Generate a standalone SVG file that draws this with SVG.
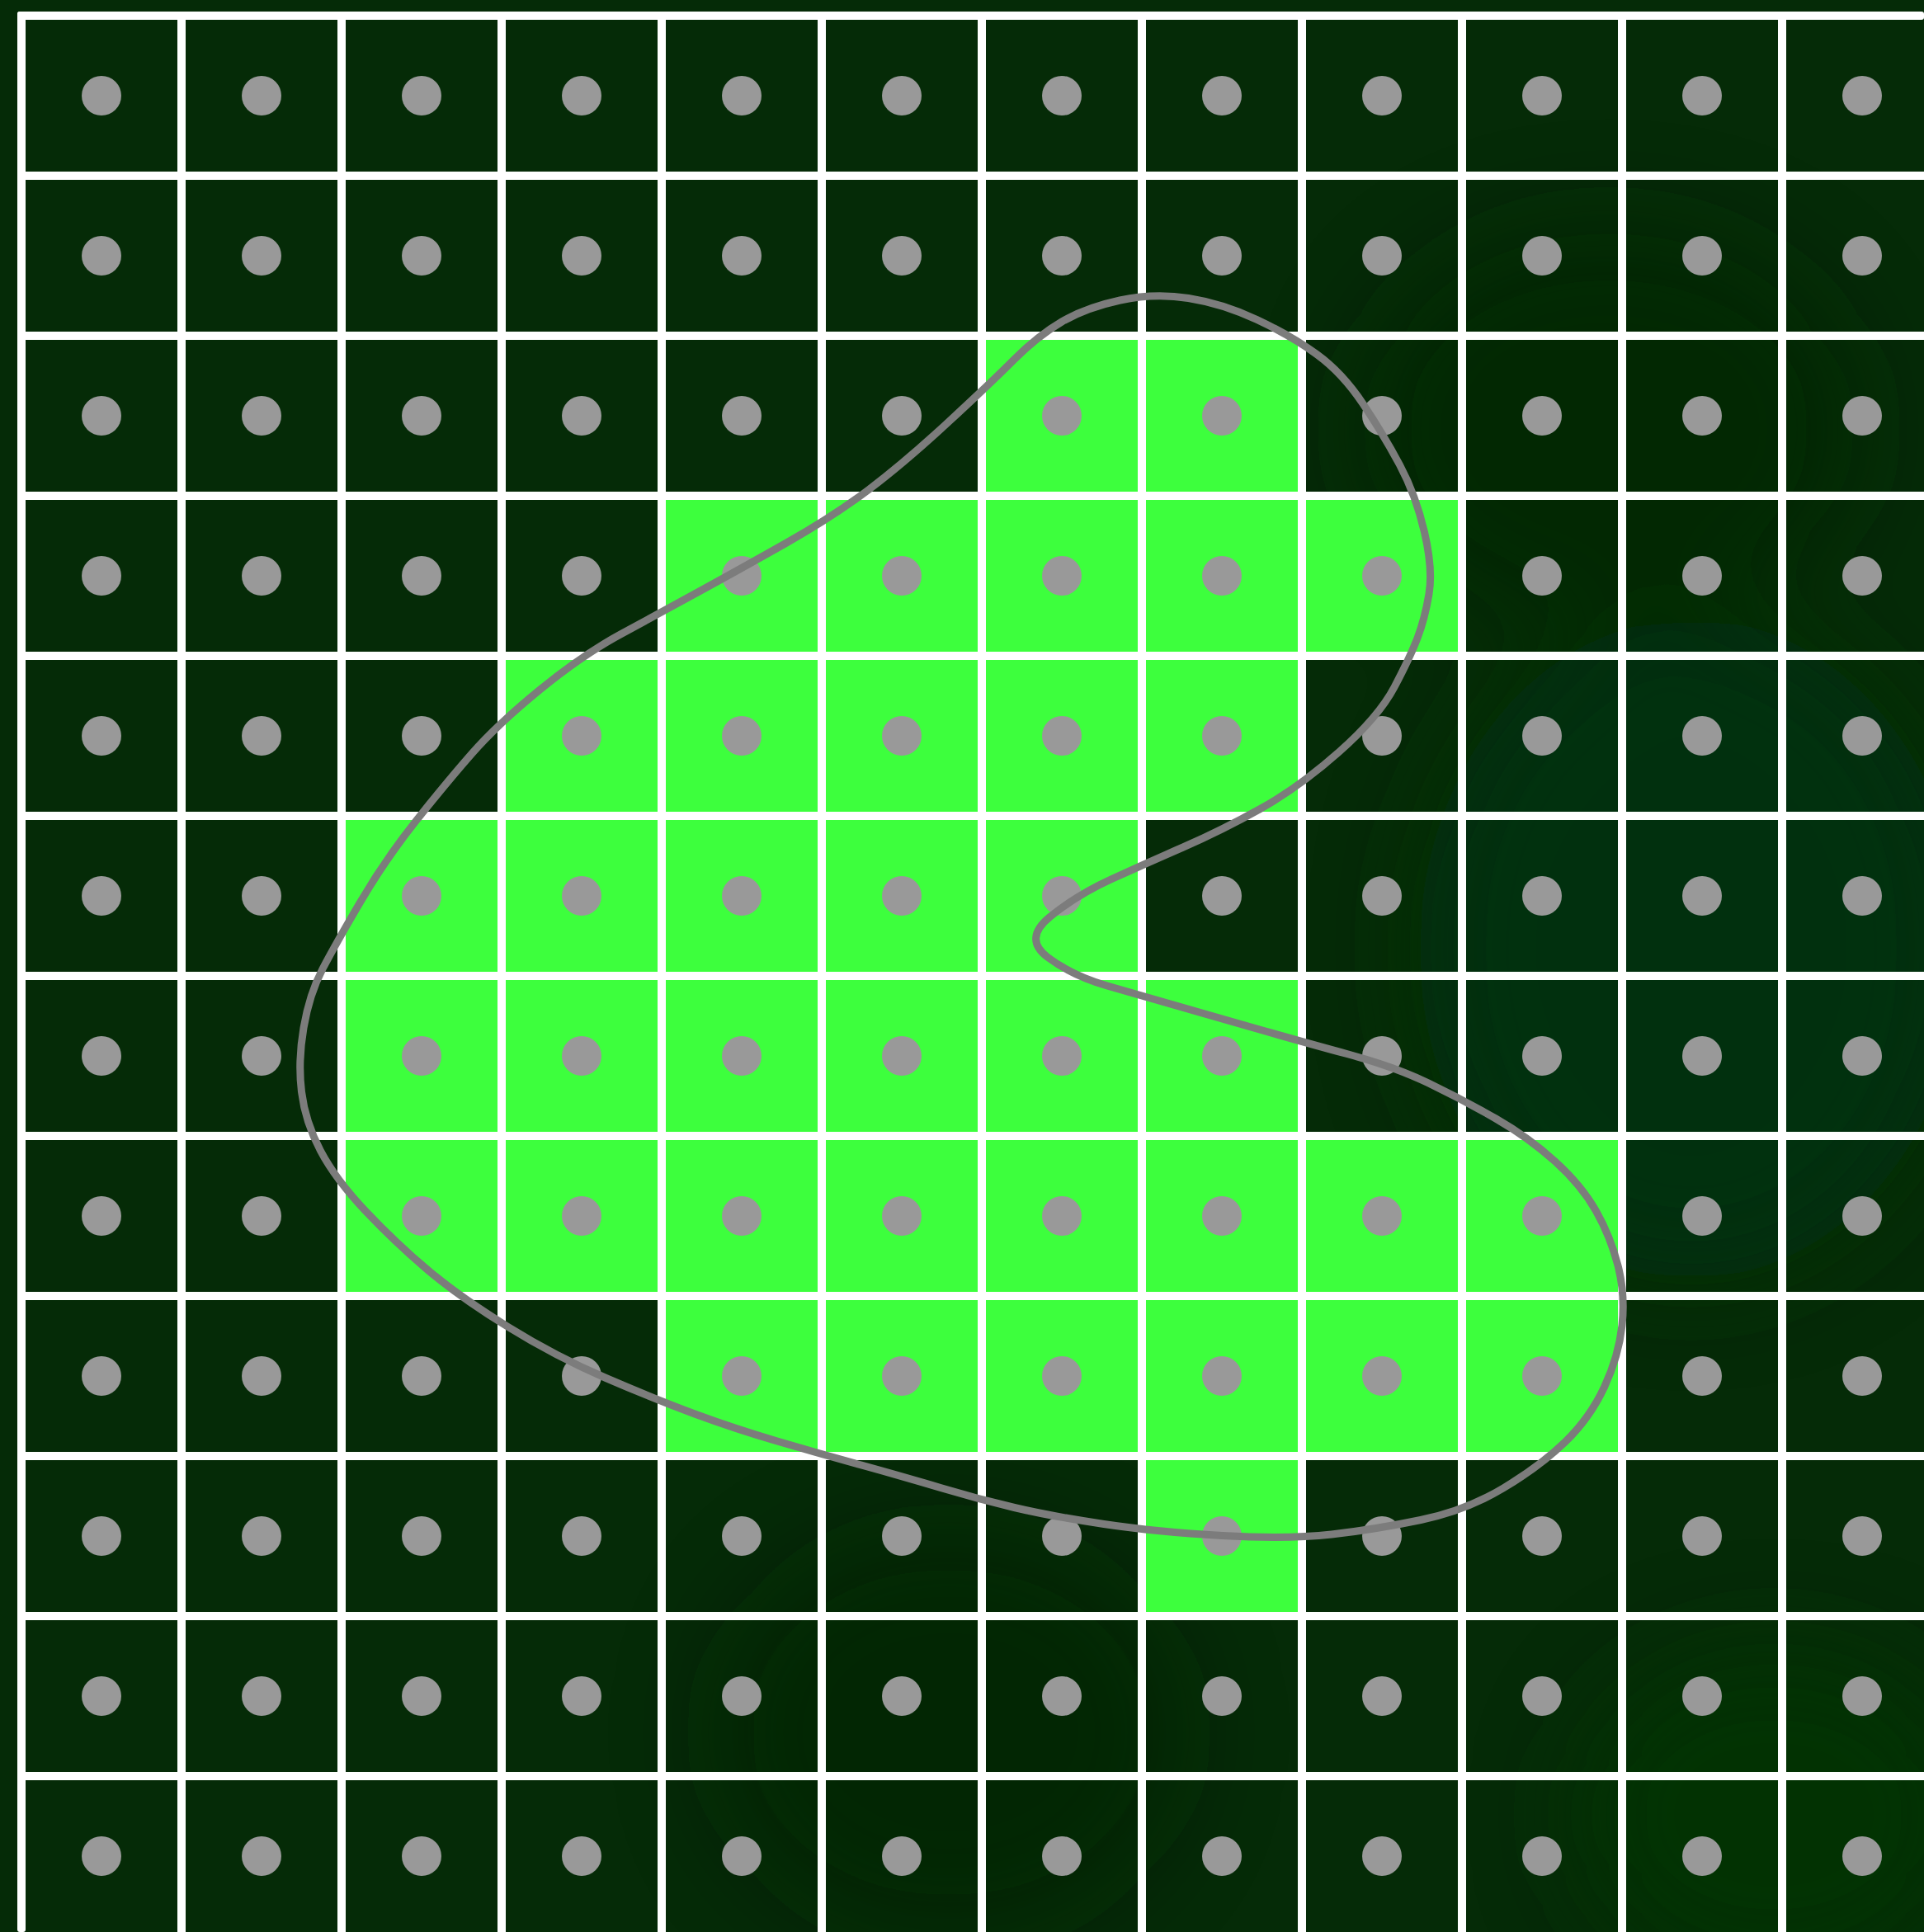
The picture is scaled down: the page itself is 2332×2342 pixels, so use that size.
<svg xmlns="http://www.w3.org/2000/svg" width="2332" height="2342" viewBox="0 0 2332 2342">
<style>
.bg{fill:#052b07}
.line{fill:#ffffff}
.hot{fill:#3dff3d}
.dot{fill:#999999}
.curve{fill:none;stroke:#7c7c7c;stroke-width:9;stroke-linejoin:round}
</style>
<defs>
<filter id="soft" x="-50%" y="-50%" width="200%" height="200%"><feGaussianBlur stdDeviation="60"/></filter>
</defs>
<g id="background">
<rect class="bg" x="0" y="0" width="2332" height="2342"/>
<g filter="url(#soft)">
<ellipse cx="2050" cy="1150" rx="330" ry="400" fill="#07350a" opacity="0.7"/>
<ellipse cx="1950" cy="520" rx="300" ry="240" fill="#042405" opacity="0.6"/>
<ellipse cx="1150" cy="2100" rx="280" ry="240" fill="#042605" opacity="0.5"/>
<ellipse cx="2150" cy="2200" rx="240" ry="200" fill="#07360a" opacity="0.6"/>
</g>
</g>
<g id="grid-lines">
<rect class="line" x="21" y="14" width="2311" height="10" rx="3"/>
<rect class="line" x="21" y="208" width="2311" height="10"/>
<rect class="line" x="21" y="402" width="2311" height="10"/>
<rect class="line" x="21" y="596" width="2311" height="10"/>
<rect class="line" x="21" y="790" width="2311" height="10"/>
<rect class="line" x="21" y="984" width="2311" height="10"/>
<rect class="line" x="21" y="1178" width="2311" height="10"/>
<rect class="line" x="21" y="1372" width="2311" height="10"/>
<rect class="line" x="21" y="1566" width="2311" height="10"/>
<rect class="line" x="21" y="1760" width="2311" height="10"/>
<rect class="line" x="21" y="1954" width="2311" height="10"/>
<rect class="line" x="21" y="2148" width="2311" height="10"/>
<rect class="line" x="21" y="14" width="10" height="2328" rx="3"/>
<rect class="line" x="215" y="14" width="10" height="2328"/>
<rect class="line" x="409" y="14" width="10" height="2328"/>
<rect class="line" x="603" y="14" width="10" height="2328"/>
<rect class="line" x="797" y="14" width="10" height="2328"/>
<rect class="line" x="991" y="14" width="10" height="2328"/>
<rect class="line" x="1185" y="14" width="10" height="2328"/>
<rect class="line" x="1379" y="14" width="10" height="2328"/>
<rect class="line" x="1573" y="14" width="10" height="2328"/>
<rect class="line" x="1767" y="14" width="10" height="2328"/>
<rect class="line" x="1961" y="14" width="10" height="2328"/>
<rect class="line" x="2155" y="14" width="10" height="2328"/>
</g>
<g id="active-cells">
<rect class="hot" x="1195" y="412" width="184" height="184"/>
<rect class="hot" x="1389" y="412" width="184" height="184"/>
<rect class="hot" x="807" y="606" width="184" height="184"/>
<rect class="hot" x="1001" y="606" width="184" height="184"/>
<rect class="hot" x="1195" y="606" width="184" height="184"/>
<rect class="hot" x="1389" y="606" width="184" height="184"/>
<rect class="hot" x="1583" y="606" width="184" height="184"/>
<rect class="hot" x="613" y="800" width="184" height="184"/>
<rect class="hot" x="807" y="800" width="184" height="184"/>
<rect class="hot" x="1001" y="800" width="184" height="184"/>
<rect class="hot" x="1195" y="800" width="184" height="184"/>
<rect class="hot" x="1389" y="800" width="184" height="184"/>
<rect class="hot" x="419" y="994" width="184" height="184"/>
<rect class="hot" x="613" y="994" width="184" height="184"/>
<rect class="hot" x="807" y="994" width="184" height="184"/>
<rect class="hot" x="1001" y="994" width="184" height="184"/>
<rect class="hot" x="1195" y="994" width="184" height="184"/>
<rect class="hot" x="419" y="1188" width="184" height="184"/>
<rect class="hot" x="613" y="1188" width="184" height="184"/>
<rect class="hot" x="807" y="1188" width="184" height="184"/>
<rect class="hot" x="1001" y="1188" width="184" height="184"/>
<rect class="hot" x="1195" y="1188" width="184" height="184"/>
<rect class="hot" x="1389" y="1188" width="184" height="184"/>
<rect class="hot" x="419" y="1382" width="184" height="184"/>
<rect class="hot" x="613" y="1382" width="184" height="184"/>
<rect class="hot" x="807" y="1382" width="184" height="184"/>
<rect class="hot" x="1001" y="1382" width="184" height="184"/>
<rect class="hot" x="1195" y="1382" width="184" height="184"/>
<rect class="hot" x="1389" y="1382" width="184" height="184"/>
<rect class="hot" x="1583" y="1382" width="184" height="184"/>
<rect class="hot" x="1777" y="1382" width="184" height="184"/>
<rect class="hot" x="807" y="1576" width="184" height="184"/>
<rect class="hot" x="1001" y="1576" width="184" height="184"/>
<rect class="hot" x="1195" y="1576" width="184" height="184"/>
<rect class="hot" x="1389" y="1576" width="184" height="184"/>
<rect class="hot" x="1583" y="1576" width="184" height="184"/>
<rect class="hot" x="1777" y="1576" width="184" height="184"/>
<rect class="hot" x="1389" y="1770" width="184" height="184"/>
</g>
<g id="dots">
<g id="row0"><circle class="dot" cx="123" cy="116" r="24"/><circle class="dot" cx="317" cy="116" r="24"/><circle class="dot" cx="511" cy="116" r="24"/><circle class="dot" cx="705" cy="116" r="24"/><circle class="dot" cx="899" cy="116" r="24"/><circle class="dot" cx="1093" cy="116" r="24"/><circle class="dot" cx="1287" cy="116" r="24"/><circle class="dot" cx="1481" cy="116" r="24"/><circle class="dot" cx="1675" cy="116" r="24"/><circle class="dot" cx="1869" cy="116" r="24"/><circle class="dot" cx="2063" cy="116" r="24"/><circle class="dot" cx="2257" cy="116" r="24"/></g>
<g id="row1"><circle class="dot" cx="123" cy="310" r="24"/><circle class="dot" cx="317" cy="310" r="24"/><circle class="dot" cx="511" cy="310" r="24"/><circle class="dot" cx="705" cy="310" r="24"/><circle class="dot" cx="899" cy="310" r="24"/><circle class="dot" cx="1093" cy="310" r="24"/><circle class="dot" cx="1287" cy="310" r="24"/><circle class="dot" cx="1481" cy="310" r="24"/><circle class="dot" cx="1675" cy="310" r="24"/><circle class="dot" cx="1869" cy="310" r="24"/><circle class="dot" cx="2063" cy="310" r="24"/><circle class="dot" cx="2257" cy="310" r="24"/></g>
<g id="row2"><circle class="dot" cx="123" cy="504" r="24"/><circle class="dot" cx="317" cy="504" r="24"/><circle class="dot" cx="511" cy="504" r="24"/><circle class="dot" cx="705" cy="504" r="24"/><circle class="dot" cx="899" cy="504" r="24"/><circle class="dot" cx="1093" cy="504" r="24"/><circle class="dot" cx="1287" cy="504" r="24"/><circle class="dot" cx="1481" cy="504" r="24"/><circle class="dot" cx="1675" cy="504" r="24"/><circle class="dot" cx="1869" cy="504" r="24"/><circle class="dot" cx="2063" cy="504" r="24"/><circle class="dot" cx="2257" cy="504" r="24"/></g>
<g id="row3"><circle class="dot" cx="123" cy="698" r="24"/><circle class="dot" cx="317" cy="698" r="24"/><circle class="dot" cx="511" cy="698" r="24"/><circle class="dot" cx="705" cy="698" r="24"/><circle class="dot" cx="899" cy="698" r="24"/><circle class="dot" cx="1093" cy="698" r="24"/><circle class="dot" cx="1287" cy="698" r="24"/><circle class="dot" cx="1481" cy="698" r="24"/><circle class="dot" cx="1675" cy="698" r="24"/><circle class="dot" cx="1869" cy="698" r="24"/><circle class="dot" cx="2063" cy="698" r="24"/><circle class="dot" cx="2257" cy="698" r="24"/></g>
<g id="row4"><circle class="dot" cx="123" cy="892" r="24"/><circle class="dot" cx="317" cy="892" r="24"/><circle class="dot" cx="511" cy="892" r="24"/><circle class="dot" cx="705" cy="892" r="24"/><circle class="dot" cx="899" cy="892" r="24"/><circle class="dot" cx="1093" cy="892" r="24"/><circle class="dot" cx="1287" cy="892" r="24"/><circle class="dot" cx="1481" cy="892" r="24"/><circle class="dot" cx="1675" cy="892" r="24"/><circle class="dot" cx="1869" cy="892" r="24"/><circle class="dot" cx="2063" cy="892" r="24"/><circle class="dot" cx="2257" cy="892" r="24"/></g>
<g id="row5"><circle class="dot" cx="123" cy="1086" r="24"/><circle class="dot" cx="317" cy="1086" r="24"/><circle class="dot" cx="511" cy="1086" r="24"/><circle class="dot" cx="705" cy="1086" r="24"/><circle class="dot" cx="899" cy="1086" r="24"/><circle class="dot" cx="1093" cy="1086" r="24"/><circle class="dot" cx="1287" cy="1086" r="24"/><circle class="dot" cx="1481" cy="1086" r="24"/><circle class="dot" cx="1675" cy="1086" r="24"/><circle class="dot" cx="1869" cy="1086" r="24"/><circle class="dot" cx="2063" cy="1086" r="24"/><circle class="dot" cx="2257" cy="1086" r="24"/></g>
<g id="row6"><circle class="dot" cx="123" cy="1280" r="24"/><circle class="dot" cx="317" cy="1280" r="24"/><circle class="dot" cx="511" cy="1280" r="24"/><circle class="dot" cx="705" cy="1280" r="24"/><circle class="dot" cx="899" cy="1280" r="24"/><circle class="dot" cx="1093" cy="1280" r="24"/><circle class="dot" cx="1287" cy="1280" r="24"/><circle class="dot" cx="1481" cy="1280" r="24"/><circle class="dot" cx="1675" cy="1280" r="24"/><circle class="dot" cx="1869" cy="1280" r="24"/><circle class="dot" cx="2063" cy="1280" r="24"/><circle class="dot" cx="2257" cy="1280" r="24"/></g>
<g id="row7"><circle class="dot" cx="123" cy="1474" r="24"/><circle class="dot" cx="317" cy="1474" r="24"/><circle class="dot" cx="511" cy="1474" r="24"/><circle class="dot" cx="705" cy="1474" r="24"/><circle class="dot" cx="899" cy="1474" r="24"/><circle class="dot" cx="1093" cy="1474" r="24"/><circle class="dot" cx="1287" cy="1474" r="24"/><circle class="dot" cx="1481" cy="1474" r="24"/><circle class="dot" cx="1675" cy="1474" r="24"/><circle class="dot" cx="1869" cy="1474" r="24"/><circle class="dot" cx="2063" cy="1474" r="24"/><circle class="dot" cx="2257" cy="1474" r="24"/></g>
<g id="row8"><circle class="dot" cx="123" cy="1668" r="24"/><circle class="dot" cx="317" cy="1668" r="24"/><circle class="dot" cx="511" cy="1668" r="24"/><circle class="dot" cx="705" cy="1668" r="24"/><circle class="dot" cx="899" cy="1668" r="24"/><circle class="dot" cx="1093" cy="1668" r="24"/><circle class="dot" cx="1287" cy="1668" r="24"/><circle class="dot" cx="1481" cy="1668" r="24"/><circle class="dot" cx="1675" cy="1668" r="24"/><circle class="dot" cx="1869" cy="1668" r="24"/><circle class="dot" cx="2063" cy="1668" r="24"/><circle class="dot" cx="2257" cy="1668" r="24"/></g>
<g id="row9"><circle class="dot" cx="123" cy="1862" r="24"/><circle class="dot" cx="317" cy="1862" r="24"/><circle class="dot" cx="511" cy="1862" r="24"/><circle class="dot" cx="705" cy="1862" r="24"/><circle class="dot" cx="899" cy="1862" r="24"/><circle class="dot" cx="1093" cy="1862" r="24"/><circle class="dot" cx="1287" cy="1862" r="24"/><circle class="dot" cx="1481" cy="1862" r="24"/><circle class="dot" cx="1675" cy="1862" r="24"/><circle class="dot" cx="1869" cy="1862" r="24"/><circle class="dot" cx="2063" cy="1862" r="24"/><circle class="dot" cx="2257" cy="1862" r="24"/></g>
<g id="row10"><circle class="dot" cx="123" cy="2056" r="24"/><circle class="dot" cx="317" cy="2056" r="24"/><circle class="dot" cx="511" cy="2056" r="24"/><circle class="dot" cx="705" cy="2056" r="24"/><circle class="dot" cx="899" cy="2056" r="24"/><circle class="dot" cx="1093" cy="2056" r="24"/><circle class="dot" cx="1287" cy="2056" r="24"/><circle class="dot" cx="1481" cy="2056" r="24"/><circle class="dot" cx="1675" cy="2056" r="24"/><circle class="dot" cx="1869" cy="2056" r="24"/><circle class="dot" cx="2063" cy="2056" r="24"/><circle class="dot" cx="2257" cy="2056" r="24"/></g>
<g id="row11"><circle class="dot" cx="123" cy="2250" r="24"/><circle class="dot" cx="317" cy="2250" r="24"/><circle class="dot" cx="511" cy="2250" r="24"/><circle class="dot" cx="705" cy="2250" r="24"/><circle class="dot" cx="899" cy="2250" r="24"/><circle class="dot" cx="1093" cy="2250" r="24"/><circle class="dot" cx="1287" cy="2250" r="24"/><circle class="dot" cx="1481" cy="2250" r="24"/><circle class="dot" cx="1675" cy="2250" r="24"/><circle class="dot" cx="1869" cy="2250" r="24"/><circle class="dot" cx="2063" cy="2250" r="24"/><circle class="dot" cx="2257" cy="2250" r="24"/></g>
</g>
<g id="boundary">
<path class="curve" d="M1357.5,364 Q1399,355 1440.5,361.5 Q1482,368 1523.5,387.5 Q1565,407 1596,429.5 Q1627,452 1652,489.5 Q1677,527 1696.5,563.5 Q1716,600 1726.5,645 Q1737,690 1732,720 Q1727,750 1718,773.5 Q1709,797 1690,833 Q1671,869 1623,911.5 Q1575,954 1527.5,980.5 Q1480,1007 1434,1027 Q1388,1047 1346.5,1066 Q1305,1085 1272.5,1111.5 Q1240,1138 1270,1160.5 Q1300,1183 1342,1195 Q1384,1207 1479.5,1234.5 Q1575,1262 1632.5,1277.5 Q1690,1293 1731.5,1313 Q1773,1333 1813,1356 Q1853,1379 1885,1408 Q1917,1437 1934.5,1468 Q1952,1499 1961,1534 Q1970,1569 1966,1606.5 Q1962,1644 1944.5,1681.5 Q1927,1719 1897,1748 Q1867,1777 1822,1804 Q1777,1831 1722,1842.5 Q1667,1854 1614,1860 Q1561,1866 1481.5,1861.5 Q1402,1857 1338,1847.5 Q1274,1838 1229.5,1827.5 Q1185,1817 1140,1803.5 Q1095,1790 1044,1776 Q993,1762 942,1747 Q891,1732 843.5,1714.5 Q796,1697 734.5,1670.5 Q673,1644 615,1608 Q557,1572 518.5,1539.5 Q480,1507 443.5,1468.5 Q407,1430 388.5,1395 Q370,1360 365.5,1323.5 Q361,1287 368,1246 Q375,1205 391,1174.5 Q407,1144 437,1093 Q467,1042 503.5,996 Q540,950 571.5,914 Q603,878 654.5,836 Q706,794 752,769 Q798,744 846.5,717.5 Q895,691 952.5,658.5 Q1010,626 1053,593.5 Q1096,561 1148,513 Q1200,465 1229,436 Q1258,407 1287,390 Q1316,373 1357.5,364 Z"/>
</g>
</svg>
